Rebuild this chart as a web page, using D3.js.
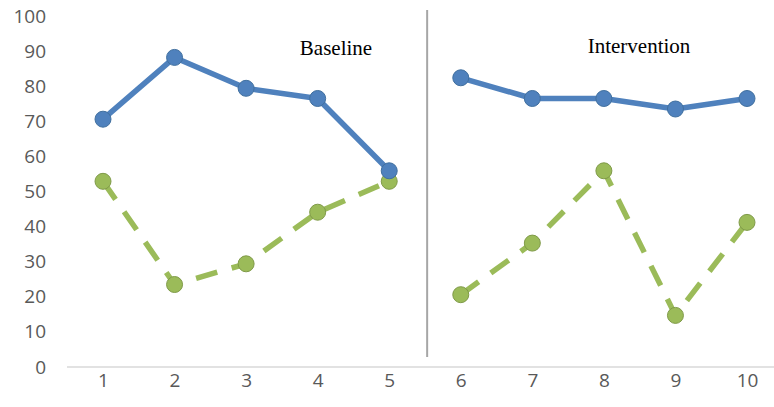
<!DOCTYPE html>
<html>
<head>
<meta charset="utf-8">
<script src="https://cdn.jsdelivr.net/npm/d3@7/dist/d3.min.js"></script>
<style>
  html, body { margin: 0; padding: 0; background: #fff; }
  svg { display: block; }
</style>
</head>
<body>
<svg id="chart" width="774" height="407"></svg>
<script>
// Sessions and the two measured series (percent)
const sessions = [1, 2, 3, 4, 5, 6, 7, 8, 9, 10];
const seriesA = [70.6, 88.2, 79.4, 76.5, 55.9, 82.4, 76.5, 76.5, 73.5, 76.5];
const seriesB = [52.9, 23.5, 29.4, 44.1, 52.9, 20.6, 35.3, 55.9, 14.7, 41.2];
const yTicks = [0, 10, 20, 30, 40, 50, 60, 70, 80, 90, 100];
const phaseLabels = ["Baseline", "Intervention"];
const phaseBreak = 5.53; // phase change between session 5 and 6

const svg = d3.select("#chart");

const x = d3.scaleLinear().domain([1, 10]).range([103, 747]);
const y = d3.scaleLinear().domain([0, 100]).range([367, 16]);

const tickFont = "'Open Sans', 'Liberation Sans', sans-serif";

// Y axis labels (no axis line, no gridlines)
const yAxis = d3.axisLeft(y).tickValues(yTicks).tickSize(0).tickPadding(0);
const gy = svg.append("g").attr("transform", "translate(46,0)").call(yAxis);
gy.select(".domain").remove();
gy.selectAll("text")
  .attr("fill", "#595959")
  .style("font-family", tickFont)
  .style("font-size", "19px");

// X axis: baseline line + category labels
const xAxis = d3.axisBottom(x).tickValues(sessions).tickSize(0).tickPadding(7);
const gx = svg.append("g").attr("transform", "translate(0,367)").call(xAxis);
gx.select(".domain").remove();
gx.selectAll("text")
  .attr("fill", "#595959")
  .style("font-family", tickFont)
  .style("font-size", "19px");
svg.append("line")
  .attr("x1", 67).attr("x2", 774)
  .attr("y1", 367).attr("y2", 367)
  .attr("stroke", "#d9d9d9").attr("stroke-width", 1.5);

// Phase change line
const xm = x(phaseBreak);
svg.append("line")
  .attr("x1", xm).attr("x2", xm)
  .attr("y1", 10).attr("y2", 357)
  .attr("stroke", "#a6a6a6").attr("stroke-width", 2);

// Phase labels
svg.append("text")
  .attr("x", 336).attr("y", 55)
  .attr("text-anchor", "middle")
  .style("font-family", "'Liberation Serif', 'Times New Roman', serif")
  .style("font-size", "21px")
  .attr("fill", "#000")
  .text(phaseLabels[0]);
svg.append("text")
  .attr("x", 639).attr("y", 53)
  .attr("text-anchor", "middle")
  .style("font-family", "'Liberation Serif', 'Times New Roman', serif")
  .style("font-size", "21px")
  .attr("fill", "#000")
  .text(phaseLabels[1]);

const line = d3.line().x(d => x(d[0])).y(d => y(d[1]));

function drawPhase(values, from, to, color, dash) {
  const pts = sessions.map((s, i) => [s, values[i]]).filter(d => d[0] >= from && d[0] <= to);
  svg.append("path")
    .datum(pts)
    .attr("d", line)
    .attr("fill", "none")
    .attr("stroke", color)
    .attr("stroke-width", 5.5)
    .attr("stroke-dasharray", dash)
    .attr("stroke-linejoin", "round");
  return pts;
}

function drawMarkers(pts, fill, stroke) {
  svg.append("g").selectAll("circle")
    .data(pts)
    .join("circle")
    .attr("cx", d => x(d[0]))
    .attr("cy", d => y(d[1]))
    .attr("r", 8)
    .attr("fill", fill)
    .attr("stroke", stroke)
    .attr("stroke-width", 1);
}

const blue = "#4f81bd", blueEdge = "#41709f";
const green = "#9bbb59", greenEdge = "#7f9a48";

const bBase = drawPhase(seriesB, 1, 5, green, "22,15");
const bInt = drawPhase(seriesB, 6, 10, green, "22,15");
const aBase = drawPhase(seriesA, 1, 5, blue, null);
const aInt = drawPhase(seriesA, 6, 10, blue, null);

drawMarkers(bBase.concat(bInt), green, greenEdge);
drawMarkers(aBase.concat(aInt), blue, blueEdge);
</script>
</body>
</html>
